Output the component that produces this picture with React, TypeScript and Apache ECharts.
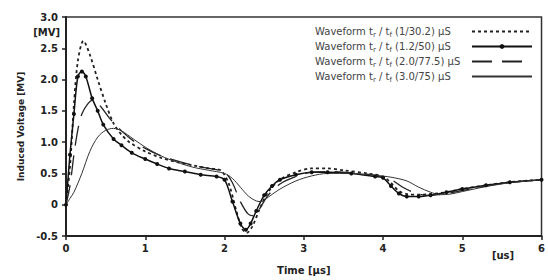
import React, { useEffect, useRef } from "react";
import * as echarts from "echarts";

const seriesNames = ["w1", "w2", "w3", "w4"];
const legendRanges: Record<string, string> = {
  w1: "(1/30.2) µS",
  w2: "(1.2/50) µS",
  w3: "(2.0/77.5) µS",
  w4: "(3.0/75) µS",
};

const wave1: [number, number][] = [
  [0, 0], [0.05, 0.6], [0.1, 1.6], [0.15, 2.3], [0.22, 2.62], [0.3, 2.4], [0.4, 2.0], [0.5, 1.62],
  [0.6, 1.3], [0.7, 1.12], [0.8, 1.0], [1.0, 0.85], [1.2, 0.75], [1.4, 0.68], [1.6, 0.63], [1.8, 0.58],
  [1.95, 0.55], [2.05, 0.35], [2.15, -0.1], [2.22, -0.38], [2.28, -0.45], [2.35, -0.35], [2.45, -0.05],
  [2.55, 0.2], [2.7, 0.4], [2.9, 0.52], [3.1, 0.58], [3.3, 0.58], [3.5, 0.55], [3.8, 0.5], [4.0, 0.45],
  [4.1, 0.35], [4.2, 0.22], [4.3, 0.17], [4.45, 0.16], [4.6, 0.17], [4.8, 0.2], [5.0, 0.25], [5.3, 0.31],
  [5.6, 0.36], [6.0, 0.4],
];
const wave2: [number, number][] = [
  [0, 0], [0.05, 0.8], [0.1, 1.45], [0.15, 2.05], [0.2, 2.13], [0.25, 2.05], [0.33, 1.7], [0.4, 1.5],
  [0.47, 1.28], [0.6, 1.05], [0.7, 0.95], [0.83, 0.83], [1.0, 0.73], [1.15, 0.65], [1.3, 0.58], [1.5, 0.53],
  [1.7, 0.48], [1.9, 0.45], [2.0, 0.4], [2.1, 0.05], [2.2, -0.3], [2.27, -0.4], [2.33, -0.3], [2.4, -0.1],
  [2.5, 0.15], [2.6, 0.3], [2.7, 0.4], [2.9, 0.48], [3.1, 0.52], [3.3, 0.52], [3.6, 0.5], [3.9, 0.45],
  [4.0, 0.43], [4.1, 0.3], [4.2, 0.18], [4.3, 0.13], [4.45, 0.13], [4.6, 0.15], [4.8, 0.2], [5.0, 0.25],
  [5.3, 0.31], [5.6, 0.36], [6.0, 0.4],
];
const wave3: [number, number][] = [
  [0, 0], [0.05, 0.3], [0.1, 0.8], [0.15, 1.2], [0.2, 1.45], [0.28, 1.62], [0.35, 1.68], [0.45, 1.55],
  [0.55, 1.38], [0.7, 1.18], [0.85, 1.02], [1.0, 0.9], [1.2, 0.78], [1.4, 0.7], [1.6, 0.63], [1.8, 0.58],
  [2.0, 0.52], [2.1, 0.35], [2.2, 0.05], [2.3, -0.15], [2.38, -0.18], [2.45, -0.05], [2.55, 0.15],
  [2.7, 0.33], [2.9, 0.45], [3.1, 0.52], [3.3, 0.53], [3.6, 0.51], [3.9, 0.47], [4.1, 0.4], [4.25, 0.28],
  [4.4, 0.19], [4.55, 0.15], [4.7, 0.16], [4.9, 0.2], [5.1, 0.25], [5.4, 0.32], [5.7, 0.37], [6.0, 0.4],
];
const wave4: [number, number][] = [
  [0, 0], [0.05, 0.1], [0.1, 0.2], [0.2, 0.5], [0.3, 0.85], [0.4, 1.08], [0.5, 1.19], [0.6, 1.22],
  [0.7, 1.18], [0.85, 1.05], [1.0, 0.92], [1.2, 0.78], [1.4, 0.68], [1.6, 0.6], [1.8, 0.55], [2.0, 0.5],
  [2.1, 0.42], [2.2, 0.28], [2.3, 0.14], [2.4, 0.06], [2.47, 0.05], [2.55, 0.12], [2.7, 0.25], [2.9, 0.38],
  [3.1, 0.46], [3.3, 0.5], [3.6, 0.5], [3.9, 0.47], [4.1, 0.44], [4.3, 0.38], [4.45, 0.28], [4.6, 0.2],
  [4.72, 0.16], [4.85, 0.17], [5.0, 0.21], [5.3, 0.29], [5.6, 0.35], [6.0, 0.4],
];

const FONT = "DejaVu Sans";
const INK = "#222";
const LEG = "#444";

export default function App() {
  const ref = useRef<HTMLDivElement>(null);
  useEffect(() => {
    document.body.style.margin = "0";
    if (!ref.current) return;
    const chart = echarts.init(ref.current, undefined, { renderer: "svg" });
    chart.setOption({
      animation: false,
      backgroundColor: "#fff",
      grid: {
        left: 66, right: 5, top: 17, bottom: 38,
        show: true, borderColor: "#333", borderWidth: 1.5, backgroundColor: "transparent",
      },
      legend: {
        data: [
          { name: seriesNames[0], itemStyle: { opacity: 0 } },
          { name: seriesNames[1] },
          { name: seriesNames[2], itemStyle: { opacity: 0 } },
          { name: seriesNames[3], itemStyle: { opacity: 0 } },
        ],
        orient: "vertical",
        align: "right",
        right: 10,
        top: 20,
        itemWidth: 60,
        itemHeight: 6,
        itemGap: 2,
        formatter: (n: string) => `{t|Waveform t}{s|r}{t| / t}{s|f}{t| ${legendRanges[n]}}`,
        textStyle: {
          fontFamily: FONT, fontSize: 10, color: LEG, width: 152, lineHeight: 13,
          rich: {
            t: { fontFamily: FONT, fontSize: 10, color: LEG, align: "left", lineHeight: 13 },
            s: { fontFamily: FONT, fontSize: 7, color: LEG, align: "left", verticalAlign: "bottom", lineHeight: 13, padding: [4, 0, 0, 0] },
          },
        },
      },
      xAxis: {
        type: "value", min: 0, max: 6, interval: 1,
        name: "Time [µs]", nameLocation: "middle", nameGap: 29,
        nameTextStyle: { fontFamily: FONT, fontSize: 10, fontWeight: "bold", color: INK },
        axisLine: { show: true, onZero: false, lineStyle: { color: INK, width: 2 } },
        axisTick: { show: true, length: 4, lineStyle: { color: INK, width: 1.5 } },
        axisLabel: { margin: 7, fontFamily: FONT, fontSize: 10, fontWeight: "bold", color: INK },
        splitLine: { show: false },
      },
      yAxis: {
        type: "value", min: -0.5, max: 3, interval: 0.5,
        name: "Induced Voltage [MV]", nameLocation: "middle", nameGap: 40,
        nameTextStyle: { fontFamily: FONT, fontSize: 9, fontWeight: "bold", color: INK },
        axisLine: { show: true, onZero: false, lineStyle: { color: INK, width: 2 } },
        axisTick: { show: true, length: 4, lineStyle: { color: INK, width: 1.5 } },
        axisLabel: {
          margin: 8, fontFamily: FONT, fontSize: 10, fontWeight: "bold", color: INK,
          formatter: (v: number) => (Math.abs(v) < 1e-9 ? "0" : v.toFixed(1)),
        },
        splitLine: { show: false },
      },
      graphic: [
        { type: "text", x: 60, y: 32, style: { text: "[MV]", font: `bold 10px ${FONT}`, fill: INK, align: "right", verticalAlign: "middle" } },
        { type: "text", x: 503, y: 255, style: { text: "[us]", font: `bold 10px ${FONT}`, fill: INK, align: "center", verticalAlign: "middle" } },
      ],
      series: [
        {
          name: "w1", type: "line", data: wave1, smooth: 0.3, showSymbol: false, symbol: "none",
          lineStyle: { color: INK, width: 1.8, type: [3, 3] }, itemStyle: { color: INK },
        },
        {
          name: "w2", type: "line", data: wave2, smooth: 0.3, showSymbol: true, symbol: "circle", symbolSize: 4,
          lineStyle: { color: "#111", width: 1.5 }, itemStyle: { color: "#111" },
        },
        {
          name: "w3", type: "line", data: wave3, smooth: 0.3, showSymbol: false, symbol: "none",
          lineStyle: { color: INK, width: 1.3, type: [20, 10] }, itemStyle: { color: INK },
        },
        {
          name: "w4", type: "line", data: wave4, smooth: 0.3, showSymbol: false, symbol: "none",
          lineStyle: { color: "#333", width: 1 }, itemStyle: { color: "#333" },
        },
      ],
    });
    return () => chart.dispose();
  }, []);
  return <div ref={ref} style={{ width: 548, height: 280 }} />;
}
